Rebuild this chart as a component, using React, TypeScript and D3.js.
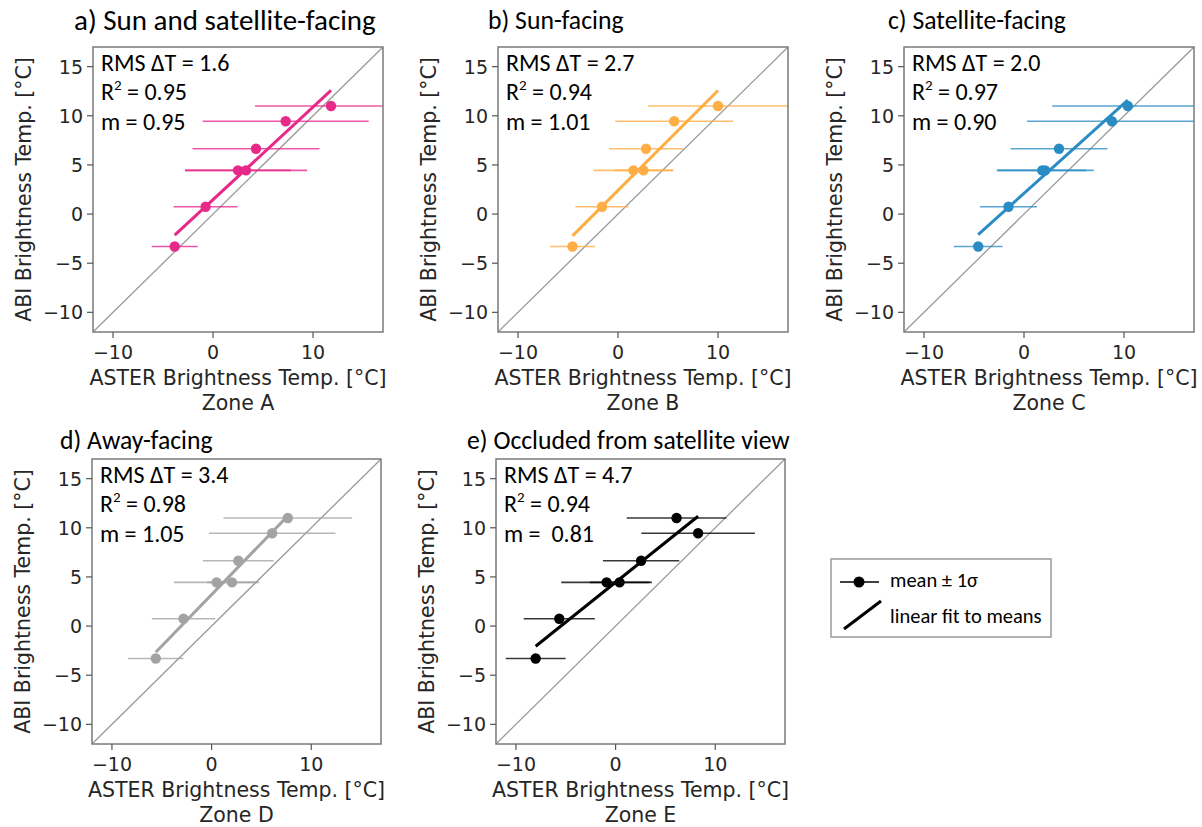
import React from 'react';
import * as d3 from 'd3';

// ABI brightness temperature (y) — same for every zone
const ABI = [-3.3, 0.75, 4.45, 4.45, 6.65, 9.45, 11.0];

// ASTER brightness temperature means (x) and 1-sigma per zone
const ASTER_A = [-3.83, -0.74, 2.5, 3.3, 4.3, 7.27, 11.8];
const SIGMA_A = [2.3, 3.2, 5.3, 6.1, 6.35, 8.3, 7.6];
const ASTER_B = [-4.55, -1.6, 1.54, 2.55, 2.8, 5.62, 10.0];
const SIGMA_B = [2.25, 2.65, 4.0, 2.9, 3.7, 5.9, 7.0];
const ASTER_C = [-4.58, -1.55, 1.82, 2.12, 3.5, 8.79, 10.38];
const SIGMA_C = [2.43, 2.85, 4.4, 4.86, 4.84, 8.5, 7.56];
const ASTER_D = [-5.6, -2.82, 0.5, 2.05, 2.68, 6.08, 7.65];
const SIGMA_D = [2.78, 3.17, 4.28, 2.5, 3.55, 6.35, 6.45];
const ASTER_E = [-8.02, -5.65, -0.9, 0.4, 2.56, 8.28, 6.12];
const SIGMA_E = [3.0, 3.57, 4.55, 3.0, 3.83, 5.7, 5.0];

const TITLES = ['a) Sun and satellite-facing', 'b) Sun-facing', 'c) Satellite-facing', 'd) Away-facing', 'e) Occluded from satellite view'];
const ZONES = ['Zone A', 'Zone B', 'Zone C', 'Zone D', 'Zone E'];
const RMS = ['1.6', '2.7', '2.0', '3.4', '4.7'];
const R2 = ['0.95', '0.94', '0.97', '0.98', '0.94'];
const SLOPE = ['0.95', '1.01', '0.90', '1.05', ' 0.81'];
const COLORS = ['#e7298a', '#ffad45', '#2b8cc4', '#a3a3a3', '#000000'];

const AXIS_TICKS = [-10, 0, 10];
const Y_TICKS = [-10, -5, 0, 5, 10, 15];
const DOMAIN: [number, number] = [-12, 17];

const XS = [ASTER_A, ASTER_B, ASTER_C, ASTER_D, ASTER_E];
const SS = [SIGMA_A, SIGMA_B, SIGMA_C, SIGMA_D, SIGMA_E];

// layout boxes (frame)
const BOXES = [
  { x0: 93, x1: 383, y0: 47, y1: 332, tx: 74, ty: 30, ts: 29 },
  { x0: 498, x1: 788, y0: 47, y1: 332, tx: 488, ty: 29, ts: 25.7 },
  { x0: 904, x1: 1194, y0: 47, y1: 332, tx: 888, ty: 29, ts: 25.7 },
  { x0: 92, x1: 381, y0: 459, y1: 744, tx: 60, ty: 449, ts: 25.7 },
  { x0: 496, x1: 785, y0: 459, y1: 744, tx: 467, ty: 449, ts: 25.7 },
];

const CAL = "Carlito, Lato, 'Open Sans', sans-serif";
const DJ = "'DejaVu Sans', sans-serif";

function fit(xs: number[], ys: number[]) {
  const mx = d3.mean(xs)!;
  const my = d3.mean(ys)!;
  let sxy = 0, sxx = 0;
  xs.forEach((x, i) => { sxy += (x - mx) * (ys[i] - my); sxx += (x - mx) * (x - mx); });
  const b = sxy / sxx;
  return { b, a: my - b * mx };
}

const fmt = (t: number) => (t < 0 ? `\u2212${Math.abs(t)}` : `${t}`);

function Panel({ i }: { i: number }) {
  const bx = BOXES[i];
  const xs = XS[i];
  const ss = SS[i];
  const color = COLORS[i];
  const x = d3.scaleLinear().domain(DOMAIN).range([bx.x0, bx.x1]);
  const y = d3.scaleLinear().domain(DOMAIN).range([bx.y1, bx.y0]);
  const { a, b } = fit(xs, ABI);
  const [xmin, xmax] = d3.extent(xs) as [number, number];
  const line = d3.line<number>().x((v) => x(v)).y((v) => y(a + b * v));
  const clipId = `clip${i}`;
  const cx = (bx.x0 + bx.x1) / 2;
  const cy = (bx.y0 + bx.y1) / 2;
  return (
    <g>
      <defs>
        <clipPath id={clipId}>
          <rect x={bx.x0} y={bx.y0} width={bx.x1 - bx.x0} height={bx.y1 - bx.y0} />
        </clipPath>
      </defs>
      <text x={bx.tx} y={bx.ty} fontFamily={CAL} fontSize={bx.ts} fill="#000">{TITLES[i]}</text>
      <g clipPath={`url(#${clipId})`}>
        <line x1={x(DOMAIN[0])} y1={y(DOMAIN[0])} x2={x(DOMAIN[1])} y2={y(DOMAIN[1])} stroke="#9a9a9a" strokeWidth={1.3} />
        {xs.map((v, k) => (
          <line key={`e${k}`} x1={x(v - ss[k])} x2={x(v + ss[k])} y1={y(ABI[k])} y2={y(ABI[k])}
            stroke={color} strokeOpacity={0.78} strokeWidth={1.6} />
        ))}
        <path d={line([xmin, xmax]) || ''} stroke={color} strokeWidth={3} fill="none" />
        {xs.map((v, k) => (
          <circle key={`c${k}`} cx={x(v)} cy={y(ABI[k])} r={5.2} fill={color} />
        ))}
      </g>
      <rect x={bx.x0} y={bx.y0} width={bx.x1 - bx.x0} height={bx.y1 - bx.y0} fill="none" stroke="#7a7a7a" strokeWidth={1.5} />
      {AXIS_TICKS.map((t) => (
        <g key={`xt${t}`}>
          <line x1={x(t)} x2={x(t)} y1={bx.y1} y2={bx.y1 + 6} stroke="#555" strokeWidth={1.2} />
          <text x={x(t)} y={bx.y1 + 27} textAnchor="middle" fontFamily={DJ} fontSize={19} fill="#262626">{fmt(t)}</text>
        </g>
      ))}
      {Y_TICKS.map((t) => (
        <g key={`yt${t}`}>
          <line x1={bx.x0 - 6} x2={bx.x0} y1={y(t)} y2={y(t)} stroke="#555" strokeWidth={1.2} />
          <text x={bx.x0 - 10} y={y(t) + 7} textAnchor="end" fontFamily={DJ} fontSize={19} fill="#262626">{fmt(t)}</text>
        </g>
      ))}
      <text x={cx} y={bx.y1 + 53} textAnchor="middle" fontFamily={DJ} fontSize={20.5} fill="#262626">ASTER Brightness Temp. [°C]</text>
      <text x={cx} y={bx.y1 + 78} textAnchor="middle" fontFamily={DJ} fontSize={20.5} fill="#262626">{ZONES[i]}</text>
      <text transform={`translate(${bx.x0 - 62},${cy}) rotate(-90)`} textAnchor="middle" fontFamily={DJ} fontSize={20.5} fill="#262626">ABI Brightness Temp. [°C]</text>
      <g fontFamily={CAL} fontSize={24} fill="#000">
        <text x={bx.x0 + 8} y={bx.y0 + 24} style={{ whiteSpace: 'pre' }}>{`RMS \u0394T = ${RMS[i]}`}</text>
        <text x={bx.x0 + 8} y={bx.y0 + 53}>R<tspan fontSize={15} dy={-10}>2</tspan><tspan dy={10}>{` = ${R2[i]}`}</tspan></text>
        <text x={bx.x0 + 8} y={bx.y0 + 83} style={{ whiteSpace: 'pre' }}>{`m = ${SLOPE[i]}`}</text>
      </g>
    </g>
  );
}

function Legend() {
  const lx = 831, ly = 559, lw = 220, lh = 78;
  return (
    <g>
      <rect x={lx} y={ly} width={lw} height={lh} fill="#fff" stroke="#9a9a9a" strokeWidth={1.5} />
      <line x1={840} x2={879} y1={582} y2={582} stroke="#000" strokeWidth={1.5} />
      <circle cx={859} cy={582} r={5.5} fill="#000" />
      <text x={890} y={587} fontFamily={CAL} fontSize={20.5} fill="#000">mean ± 1σ</text>
      <line x1={844} y1={629} x2={881} y2={601} stroke="#000" strokeWidth={3} />
      <text x={890} y={623} fontFamily={CAL} fontSize={20.5} fill="#000">linear fit to means</text>
    </g>
  );
}

export default function App() {
  return (
    <svg width={1202} height={827} style={{ position: 'absolute', left: 0, top: 0, background: '#fff' }}>
      <rect x={0} y={0} width={1202} height={827} fill="#fff" />
      {TITLES.map((_, i) => <Panel key={i} i={i} />)}
      <Legend />
    </svg>
  );
}
